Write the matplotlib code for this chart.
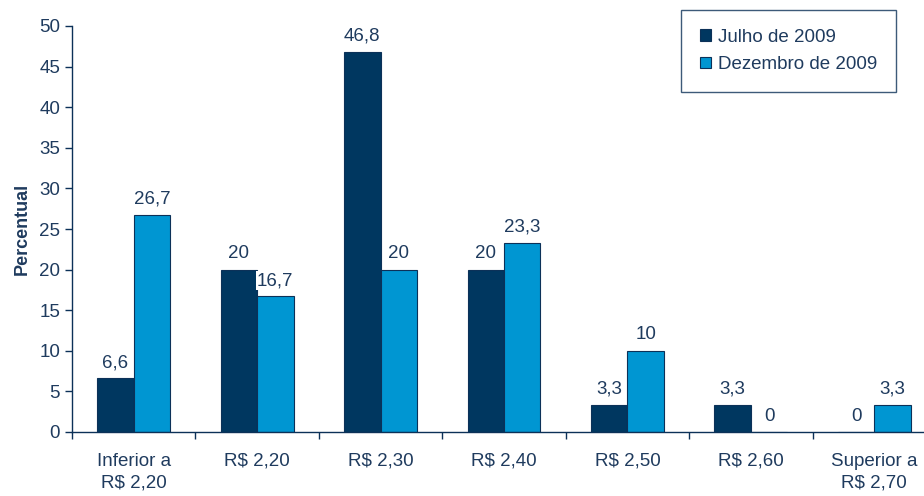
"""Preço por faixa: Julho vs Dezembro de 2009."""

import matplotlib

matplotlib.use("Agg")
import matplotlib.pyplot as plt
import numpy as np
from matplotlib.ticker import FixedLocator

plt.rcParams["font.family"] = ["Liberation Sans", "DejaVu Sans"]

CATEGORIES = [
    "Inferior a\nR$ 2,20",
    "R$ 2,20",
    "R$ 2,30",
    "R$ 2,40",
    "R$ 2,50",
    "R$ 2,60",
    "Superior a\nR$ 2,70",
]
JULHO = [6.6, 20, 46.8, 20, 3.3, 3.3, 0]
DEZEMBRO = [26.7, 16.7, 20, 23.3, 10, 0, 3.3]
SERIES_NAMES = ["Julho de 2009", "Dezembro de 2009"]

DARK = "#003760"
LIGHT = "#0096d2"
TEXT = "#1f3b5e"
EDGE = "#0c3158"
FS = 13.5


def fmt(value):
    text = f"{value:g}"
    return text.replace(".", ",")


fig = plt.figure(figsize=(9.24, 4.96), dpi=100, facecolor="white")
ax = fig.add_axes([72 / 924, 64 / 496, 864 / 924, 406 / 496])

x = np.arange(len(CATEGORIES), dtype=float)
width = 0.295
bars_j = ax.bar(x - width / 2, JULHO, width, color=DARK, edgecolor=EDGE,
                linewidth=0.8, label=SERIES_NAMES[0], zorder=2)
bars_d = ax.bar(x + width / 2, DEZEMBRO, width, color=LIGHT, edgecolor=EDGE,
                linewidth=0.8, label=SERIES_NAMES[1], zorder=2)

for bars, values in ((bars_j, JULHO), (bars_d, DEZEMBRO)):
    for bar, value in zip(bars, values):
        ax.text(bar.get_x() + bar.get_width() / 2, value + 0.9, fmt(value),
                ha="center", va="bottom", fontsize=FS, color=TEXT, zorder=3,
                bbox=dict(facecolor="white", edgecolor="none", pad=1.0))

ax.set_xlim(-0.5, len(CATEGORIES) - 0.5)
ax.set_ylim(0, 50)
ax.set_yticks(np.arange(0, 51, 5))
ax.set_xticks(x)
ax.set_xticklabels(CATEGORIES, linespacing=1.35)
ax.xaxis.set_minor_locator(FixedLocator(np.arange(-0.5, len(CATEGORIES), 1.0)))
ax.tick_params(axis="x", which="major", length=0, pad=15, labelsize=FS, colors=TEXT)
ax.tick_params(axis="x", which="minor", length=5, width=1, color=EDGE, direction="out")
ax.tick_params(axis="y", length=5, width=1, color=EDGE, labelsize=FS, labelcolor=TEXT)

ax.set_ylabel("Percentual", fontsize=13, fontweight="bold", color=TEXT, labelpad=6)

for side in ("top", "right"):
    ax.spines[side].set_visible(False)
for side in ("left", "bottom"):
    ax.spines[side].set_color(EDGE)
    ax.spines[side].set_linewidth(1)

leg = ax.legend(loc="upper right", bbox_to_anchor=(896 / 924, 1 - 10 / 496),
                bbox_transform=fig.transFigure, fontsize=FS, frameon=True,
                fancybox=False, handlelength=0.6, handleheight=0.6,
                handletextpad=0.35, borderpad=1.0, labelspacing=0.55,
                borderaxespad=0, labelcolor=TEXT)
leg.get_frame().set_edgecolor(EDGE)
leg.get_frame().set_linewidth(1)

fig.savefig("out.png", dpi=100)
